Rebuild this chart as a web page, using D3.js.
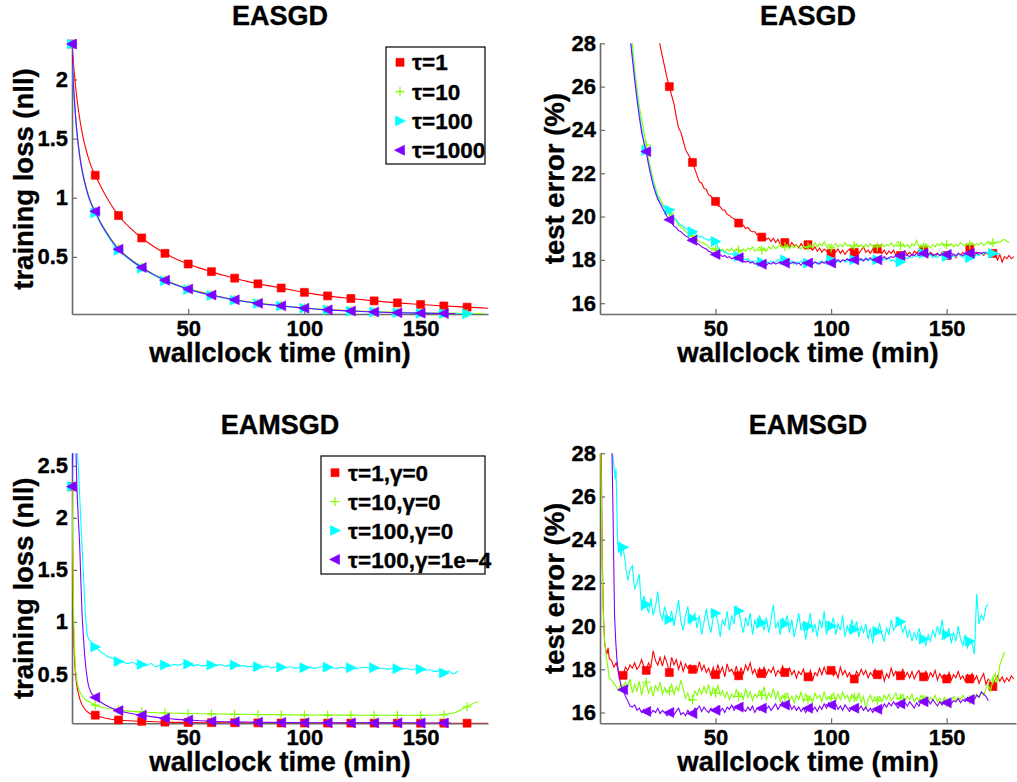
<!DOCTYPE html>
<html>
<head>
<meta charset="utf-8">
<script src="https://cdn.jsdelivr.net/npm/d3@7"></script>
<style>
body { margin: 0; background: #fff; }
text { font-family: "Liberation Sans", Arial, Helvetica, sans-serif; font-weight: bold; fill: #000; stroke: #000; stroke-width: 0.35px; }
</style>
</head>
<body>
<svg id="chart" width="1017" height="782"></svg>
<script>
// ---------- data ----------
var seriesColors = ['#ff0000', '#80ff00', '#00ffff', '#8000ff'];
var seriesMarkers = ['square', 'plus', 'right', 'left'];
var legendTop = ['τ=1', 'τ=10', 'τ=100', 'τ=1000'];
var legendBottom = ['τ=1,γ=0', 'τ=10,γ=0', 'τ=100,γ=0', 'τ=100,γ=1e−4'];

var xTicks = [50, 100, 150];
var lossTicksTop = [0.5, 1, 1.5, 2];
var lossTicksBottom = [0.5, 1, 1.5, 2, 2.5];
var errTicks = [16, 18, 20, 22, 24, 26, 28];

// EASGD, training loss  [minutes, nll]
var aRed = [[0,2.3],[1,2.05],[2,1.86],[3,1.71],[4,1.59],[5,1.49],[6,1.41],[7,1.34],[8,1.28],[9,1.23],[10,1.19],[12,1.11],[15,1.0],[20,0.85],[25,0.745],[30,0.66],[35,0.59],[40,0.53],[45,0.48],[50,0.44],[55,0.405],[60,0.375],[65,0.345],[70,0.32],[75,0.295],[80,0.272],[85,0.255],[90,0.237],[95,0.218],[100,0.2],[110,0.17],[120,0.148],[130,0.128],[140,0.111],[150,0.097],[160,0.085],[170,0.075],[179,0.066]];
var aGreen = [[0,2.3],[0.5,2.01],[1,1.85],[2,1.59],[3,1.41],[4,1.28],[5,1.18],[6,1.1],[7,1.03],[8,0.97],[9,0.925],[10,0.885],[12,0.805],[15,0.705],[20,0.57],[25,0.485],[30,0.415],[35,0.356],[40,0.307],[45,0.266],[50,0.232],[55,0.204],[60,0.18],[65,0.159],[70,0.14],[75,0.124],[80,0.11],[85,0.098],[90,0.088],[95,0.078],[100,0.069],[110,0.055],[120,0.045],[130,0.037],[140,0.031],[150,0.027],[160,0.024],[170,0.021],[177,0.02]];
var aCyan = [[0,2.3],[0.5,1.98],[1,1.82],[2,1.56],[3,1.39],[4,1.26],[5,1.16],[6,1.08],[7,1.01],[8,0.955],[9,0.91],[10,0.87],[12,0.79],[15,0.69],[20,0.555],[25,0.472],[30,0.403],[35,0.346],[40,0.298],[45,0.258],[50,0.224],[55,0.197],[60,0.174],[65,0.153],[70,0.134],[75,0.119],[80,0.105],[85,0.094],[90,0.084],[95,0.074],[100,0.065],[110,0.051],[120,0.041],[130,0.034],[140,0.028],[150,0.024],[160,0.021],[170,0.019],[173,0.019]];
var aPurple = [[0,2.3],[0.5,2.0],[1,1.84],[2,1.58],[3,1.4],[4,1.27],[5,1.17],[6,1.09],[7,1.02],[8,0.965],[9,0.92],[10,0.885],[12,0.8],[15,0.7],[20,0.565],[25,0.48],[30,0.41],[35,0.352],[40,0.303],[45,0.262],[50,0.228],[55,0.2],[60,0.177],[65,0.156],[70,0.137],[75,0.121],[80,0.107],[85,0.096],[90,0.086],[95,0.076],[100,0.066],[110,0.052],[120,0.042],[130,0.034],[140,0.028],[150,0.024],[160,0.021],[165,0.02]];

// EASGD, test error  head: [minutes, %], tail: one value per minute
var bRedHead = [[20,33],[24,29.5],[26,27.9],[27,27.4],[28,26.9],[29,26.4]];
var bRedStart = 30;
var bRedTail = [
  26.0,25.6,25.2,24.6,24.1,23.9,23.5,23.1,22.9,22.7,      // 30
  22.5,22.2,21.9,21.6,21.55,21.3,21.25,21.0,20.95,20.8,   // 40
  20.7,20.5,20.45,20.3,20.3,20.1,20.05,19.95,19.9,19.8,   // 50
  19.7,19.65,19.6,19.45,19.5,19.35,19.3,19.3,19.15,19.2,  // 60
  19.05,19.1,18.95,19.0,18.85,19.0,18.8,18.95,18.7,18.85, // 70
  18.8,18.75,18.6,18.8,18.65,18.7,18.55,18.75,18.6,18.5,  // 80
  18.7,18.55,18.45,18.6,18.4,18.55,18.35,18.5,18.4,18.3,  // 90
  18.3,18.45,18.35,18.5,18.3,18.45,18.25,18.4,18.5,18.3,  // 100
  18.35,18.5,18.3,18.45,18.6,18.35,18.45,18.3,18.5,18.4,  // 110
  18.5,18.35,18.3,18.45,18.25,18.4,18.3,18.45,18.2,18.35, // 120
  18.2,18.3,18.4,18.25,18.35,18.2,18.4,18.3,18.45,18.3,   // 130
  18.45,18.3,18.2,18.35,18.25,18.15,18.3,18.2,18.35,18.25,// 140
  18.2,18.3,18.15,18.25,18.1,18.3,18.2,18.35,18.25,18.4,  // 150
  18.55,18.3,18.2,18.35,18.25,18.3,18.2,18.35,18.25,18.3, // 160
  18.3,18.2,18.0,18.25,17.9,18.15,18.05,18.2,18.05,18.15  // 170
];
var bGreenHead = [[10,34],[12,30.5],[14,28.0],[15,26.8],[16,25.9],[17,25.1],[18,24.5],[19,23.9]];
var bGreenStart = 20;
var bGreenTail = [
  23.3,22.7,22.2,21.7,21.35,21.0,20.8,20.6,20.4,20.25,    // 20
  20.15,20.0,19.9,19.8,19.6,19.5,19.45,19.3,19.25,19.15,  // 30
  19.1,19.0,18.95,18.85,18.8,18.75,18.7,18.6,18.5,18.55,  // 40
  18.45,18.55,18.4,18.5,18.35,18.5,18.4,18.55,18.35,18.5, // 50
  18.45,18.35,18.5,18.4,18.55,18.45,18.6,18.4,18.5,18.6,  // 60
  18.45,18.55,18.4,18.6,18.5,18.65,18.5,18.6,18.75,18.55, // 70
  18.6,18.7,18.5,18.65,18.55,18.7,18.6,18.5,18.65,18.55,  // 80
  18.6,18.7,18.55,18.8,18.6,18.75,18.65,18.85,18.6,18.7,  // 90
  18.55,18.65,18.75,18.6,18.7,18.6,18.8,18.65,18.7,18.55, // 100
  18.65,18.75,18.6,18.7,18.55,18.7,18.6,18.75,18.6,18.7,  // 110
  18.6,18.65,18.75,18.6,18.7,18.65,18.8,18.6,18.7,18.85,  // 120
  18.65,18.75,18.6,18.7,18.55,18.75,18.65,18.9,18.6,18.7, // 130
  18.6,18.75,18.65,18.55,18.7,18.6,18.75,18.65,18.8,18.6, // 140
  18.7,18.65,18.75,18.6,18.7,18.65,18.8,18.7,18.65,18.75, // 150
  18.7,18.8,18.65,18.75,18.7,18.8,18.65,18.75,18.85,18.7, // 160
  18.8,18.75,18.85,18.8,18.9,18.95,18.85,18.8             // 170
];
var bCyanHead = [[8,34],[11,30],[13.5,28.0],[14.5,27.0],[15.5,26.0],[16.5,25.2],[17.5,24.4],[18.5,23.8],[19,23.5]];
var bCyanStart = 20;
var bCyanTail = [
  23.05,22.5,22.0,21.6,21.2,20.9,20.65,20.5,20.4,20.35,   // 20
  20.3,20.1,19.95,19.85,19.7,19.6,19.55,19.45,19.4,19.35, // 30
  19.3,19.2,19.15,19.05,19.1,19.0,18.95,18.9,18.95,18.85, // 40
  18.85,18.6,18.45,18.4,18.35,18.3,18.25,18.3,18.2,18.25, // 50
  18.15,18.1,18.05,18.0,18.05,17.95,17.9,17.95,17.85,17.9,// 60
  17.9,17.8,17.9,17.85,17.95,17.85,17.9,18.0,17.9,17.95,  // 70
  18.0,17.9,17.85,17.95,17.8,17.9,17.85,17.95,17.8,17.9,  // 80
  17.85,17.95,17.85,17.9,17.8,17.9,17.95,17.85,17.9,18.0, // 90
  18.0,17.9,17.85,17.95,17.9,18.0,17.9,17.95,18.05,17.9,  // 100
  18.0,17.95,18.05,17.95,18.0,18.1,17.95,18.05,17.95,18.05, // 110
  18.0,18.1,17.95,18.05,18.0,18.1,17.95,18.0,17.9,17.95,  // 120
  17.9,18.0,18.1,18.05,18.15,18.1,18.2,18.15,18.25,18.2,  // 130
  18.3,18.2,18.15,18.25,18.1,18.2,18.1,18.25,18.15,18.2,  // 140
  18.15,18.25,18.1,18.2,18.15,18.3,18.2,18.1,18.25,18.15, // 150
  18.1,18.2,18.15,18.25,18.2,18.3,18.25,18.35,18.3,18.25, // 160
  18.3,18.25,18.3,18.25                                   // 170
];
var bPurpleHead = [[8,34],[11,30],[13.3,28.0],[14,27.3],[15,26.3],[16,25.4],[17,24.6],[18,23.9],[19,23.4]];
var bPurpleStart = 20;
var bPurpleTail = [
  23.0,22.4,21.9,21.45,21.1,20.8,20.6,20.4,20.2,20.0,     // 20
  19.85,19.7,19.55,19.5,19.35,19.3,19.2,19.1,19.05,18.95, // 30
  18.9,18.8,18.75,18.7,18.6,18.55,18.5,18.4,18.35,18.3,   // 40
  18.25,18.2,18.25,18.15,18.2,18.1,18.15,18.05,18.1,18.0, // 50
  18.1,18.0,17.95,17.9,17.95,17.85,17.9,17.8,17.85,17.75, // 60
  17.8,17.85,17.75,17.85,17.8,17.9,17.8,17.85,17.9,17.8,  // 70
  17.85,17.9,17.8,17.85,17.9,17.8,17.85,17.75,17.9,17.8,  // 80
  17.85,17.9,17.8,17.9,17.85,17.8,17.9,17.85,17.95,17.85, // 90
  17.85,17.95,17.9,18.0,17.9,18.0,17.95,18.05,17.95,18.05,// 100
  18.0,18.1,18.0,18.05,17.95,18.05,18.0,18.1,18.0,18.05,  // 110
  18.0,18.1,18.05,18.15,18.05,18.1,18.15,18.1,18.2,18.15, // 120
  18.2,18.15,18.25,18.2,18.15,18.25,18.2,18.3,18.2,18.25, // 130
  18.3,18.2,18.25,18.3,18.2,18.25,18.3,18.2,18.25,18.3,   // 140
  18.25,18.2,18.3,18.25,18.2,18.3,18.25,18.2,18.3,18.25,  // 150
  18.3,18.25,18.35,18.3,18.35,18.3,18.35,18.3             // 160
];

// EAMSGD, training loss  [minutes, nll]
var cRed = [[0,2.3],[0.3,1.6],[0.6,1.0],[1,0.7],[1.5,0.5],[2,0.4],[3,0.29],[4,0.22],[5,0.18],[6,0.15],[7,0.13],[8,0.117],[10,0.104],[12,0.088],[15,0.072],[20,0.058],[25,0.05],[30,0.045],[40,0.037],[50,0.034],[60,0.032],[70,0.031],[80,0.03],[90,0.029],[100,0.029],[110,0.028],[120,0.028],[130,0.028],[140,0.028],[150,0.027],[160,0.027],[170,0.027],[179,0.027]];
var cGreen = [[0,2.3],[0.3,1.8],[0.6,1.2],[1,0.8],[1.5,0.56],[2,0.45],[3,0.35],[4,0.3],[5,0.27],[6,0.25],[8,0.225],[10,0.2],[12,0.185],[15,0.17],[20,0.155],[25,0.143],[30,0.135],[40,0.125],[50,0.12],[60,0.116],[70,0.113],[80,0.11],[90,0.108],[100,0.106],[110,0.105],[120,0.104],[130,0.103],[140,0.103],[150,0.103],[155,0.104],[160,0.11],[163,0.12],[166,0.14],[168,0.165],[170,0.185],[172,0.21],[175,0.235]];
var cCyanHead = [[0,2.3],[0.5,2.6],[1,2.72],[2,2.7],[2.8,2.45],[3.6,2.06],[4.3,1.74],[5,1.42],[5.7,1.1],[6.4,0.9],[7.1,0.84],[8,0.81],[9,0.79],[10,0.76],[11,0.74],[12,0.72],[13,0.7],[14,0.69],[15,0.67],[16,0.66],[17,0.655],[18,0.64],[19,0.63],[20,0.62]];
var cCyanStart = 22;   // one value every 2 minutes
var cCyanTail = [
  0.615,0.6,0.61,0.59,0.59,0.58,0.6,0.57,0.585,0.585,     // 22
  0.575,0.59,0.585,0.6,0.595,0.58,0.59,0.575,0.585,0.585, // 42
  0.58,0.59,0.575,0.585,0.585,0.575,0.58,0.57,0.575,0.57, // 62
  0.565,0.575,0.56,0.57,0.565,0.56,0.57,0.555,0.565,0.56, // 82
  0.57,0.555,0.565,0.57,0.565,0.56,0.555,0.565,0.555,0.56,// 102
  0.55,0.56,0.565,0.555,0.56,0.55,0.555,0.545,0.555,0.55, // 122
  0.545,0.555,0.54,0.55,0.545,0.535,0.54,0.525,0.53,0.51, // 142
  0.53,0.5,0.53                                           // 162
];
var cPurple = [[0,2.3],[0.4,2.7],[1.5,2.75],[2.1,2.3],[2.7,2.0],[3.3,1.74],[3.8,1.4],[4.3,1.1],[5,0.82],[5.7,0.62],[6.4,0.48],[7.1,0.39],[8,0.33],[9,0.295],[10,0.275],[12,0.235],[15,0.195],[20,0.148],[25,0.122],[30,0.104],[35,0.088],[40,0.074],[45,0.064],[50,0.057],[60,0.046],[70,0.04],[80,0.036],[90,0.034],[100,0.032],[110,0.031],[120,0.03],[130,0.03],[140,0.03],[150,0.029],[160,0.029],[163,0.029]];

// EAMSGD, test error  head: [minutes, %], tail: one value per minute
var dRedHead = [[0,40],[0.5,28.5],[1,23],[1.5,20.5],[2,19.2],[2.5,18.9],[3,18.7],[3.5,19.0],[4,18.5],[5,18.4],[6,18.1],[7,18.3],[8,17.9],[9,17.75]];
var dRedStart = 10;
var dRedTail = [
  17.72,18.1,17.95,18.2,18.05,18.3,18.0,18.15,18.45,18.1, // 10
  17.95,18.3,18.1,18.85,18.4,18.2,18.55,18.15,18.6,18.3,  // 20
  17.85,18.55,18.2,18.45,18.0,18.35,17.9,18.25,18.05,18.2,// 30
  18.0,18.15,17.9,18.35,17.95,18.2,17.85,18.05,17.7,18.1, // 40
  17.75,18.2,17.85,18.1,17.65,18.25,17.9,18.0,17.75,18.15,// 50
  17.7,18.05,17.8,18.2,17.95,18.3,17.8,18.0,17.65,18.05,  // 60
  17.8,18.1,17.75,18.0,17.85,18.1,17.7,17.95,17.8,18.15,  // 70
  17.85,17.7,18.05,17.75,17.95,17.6,17.9,17.75,18.0,17.6, // 80
  17.65,17.95,17.5,17.85,17.7,18.05,17.75,18.1,17.8,18.0, // 90
  17.95,17.7,17.9,17.6,18.1,17.75,17.95,17.65,17.85,17.55,// 100
  17.55,17.9,17.7,18.0,17.75,17.95,17.6,17.85,17.7,18.0,  // 110
  17.75,17.6,17.95,17.45,17.8,17.6,18.05,17.7,17.9,17.55, // 120
  17.7,18.0,17.65,17.85,17.6,17.9,17.55,17.8,17.95,17.6,  // 130
  17.65,17.9,17.55,17.85,17.65,17.95,17.5,17.8,17.6,17.75,// 140
  17.55,17.85,17.5,17.75,17.6,17.9,17.55,17.7,17.45,17.75,// 150
  17.55,17.8,17.5,17.7,17.35,17.6,17.8,17.3,17.55,17.4,   // 160
  17.2,17.5,17.7,17.45,17.65,17.4,17.6,17.45,17.7,17.55   // 170
];
var dGreenHead = [[0,40],[0.3,28.5],[0.7,25],[1,22.5],[1.5,20.3],[2,19.3],[2.5,18.8],[3,18.4],[3.5,18.0],[4,17.6],[5,17.5],[6,17.35],[7,17.2],[8,17.0],[9,17.3]];
var dGreenStart = 10;
var dGreenTail = [
  17.1,17.4,17.2,17.55,16.9,17.3,17.0,17.45,16.8,17.3,    // 10
  17.4,16.9,17.2,16.75,17.25,17.0,17.4,16.85,17.15,16.9,  // 20
  17.0,17.3,16.8,17.2,17.0,17.5,17.1,16.65,16.9,16.55,    // 30
  16.6,17.0,16.8,17.1,16.85,17.2,16.9,17.3,16.75,17.15,   // 40
  16.9,17.25,16.8,17.0,16.7,16.95,16.6,16.85,16.7,17.05,  // 50
  16.75,16.9,16.6,17.1,16.7,16.95,16.55,16.85,16.7,17.0,  // 60
  16.8,17.2,16.6,16.9,16.7,17.1,16.65,16.95,16.5,16.8,    // 70
  16.7,16.9,16.55,16.75,16.45,16.8,16.6,16.95,16.5,16.85, // 80
  16.6,16.75,16.45,16.9,16.65,16.8,16.5,16.95,16.6,16.75, // 90
  16.65,16.9,16.55,16.85,16.6,16.95,16.65,16.8,16.5,16.85,// 100
  16.7,16.55,16.9,16.45,16.75,16.15,16.6,16.8,16.5,16.7,  // 110
  16.55,16.75,16.5,16.8,16.6,16.85,16.55,16.7,16.9,16.6,  // 120
  16.65,16.85,16.55,16.75,16.6,16.85,16.5,16.7,16.55,16.8,// 130
  16.6,16.75,16.45,16.7,16.55,16.8,16.5,16.65,16.4,16.7,  // 140
  16.45,16.6,16.5,16.75,16.55,16.7,16.6,16.8,16.65,16.55, // 150
  16.6,16.75,16.65,16.85,16.7,16.95,16.8,17.1,17.3,17.0,  // 160
  17.5,17.8,17.4,18.2,18.5,18.8                           // 170
];
var dCyanHead = [[3,40],[5.5,28.0],[6.2,27.2],[6.6,26.8],[6.9,27.3],[7.3,25.5],[7.6,24.0],[8,23.4],[8.5,23.9],[9,23.2],[9.5,23.8]];
var dCyanStart = 10;
var dCyanTail = [
  23.65,22.9,22.1,22.6,22.8,21.7,22.0,22.4,20.7,21.4,     // 10
  21.0,20.6,21.3,20.5,20.9,21.6,20.6,20.3,20.9,20.5,      // 20
  20.3,20.7,20.0,20.6,21.2,20.2,19.8,20.5,20.9,20.1,      // 30
  20.35,20.6,19.9,20.5,19.6,20.2,20.8,20.1,19.7,20.4,     // 40
  20.6,20.2,19.5,20.3,20.0,20.7,19.8,20.5,20.1,20.9,      // 50
  20.7,20.2,19.7,20.4,20.0,20.6,19.6,20.3,19.9,20.5,      // 60
  20.15,19.8,20.4,19.7,20.3,21.0,19.9,20.2,19.6,20.4,     // 70
  20.1,20.5,19.7,20.3,19.5,20.0,20.6,19.8,20.2,19.4,      // 80
  20.0,20.6,19.7,20.1,19.5,20.3,19.9,20.7,19.6,20.2,      // 90
  20.0,20.4,19.6,20.1,19.8,20.5,19.5,20.0,19.7,20.3,      // 100
  19.85,20.2,19.5,20.0,19.7,20.1,19.4,19.9,19.2,19.8,     // 110
  19.75,20.1,19.6,19.3,19.9,19.6,20.3,19.8,20.0,20.4,     // 120
  20.2,19.7,20.0,19.5,19.8,19.3,19.7,19.4,19.9,19.5,      // 130
  19.4,19.1,19.6,19.3,19.8,19.5,20.0,19.6,20.3,19.4,      // 140
  19.6,19.9,19.2,19.7,19.3,20.0,19.4,19.1,19.6,19.0,      // 150
  19.3,19.2,18.7,21.5,20.1,20.5,20.3,20.9,21.0            // 160
];
var dPurpleHead = [[3,45],[4.6,30],[5.2,28.0],[5.6,25.5],[6.0,22.5],[6.3,20.5],[6.8,19.3],[7.3,18.5],[8,17.8],[8.6,17.5],[9.2,17.2]];
var dPurpleStart = 10;
var dPurpleTail = [
  17.05,16.75,16.55,16.3,16.25,16.35,16.1,16.2,16.0,16.15,// 10
  16.05,16.15,15.95,16.1,16.0,16.2,15.95,16.1,16.0,15.85, // 20
  16.0,16.15,15.9,16.05,16.2,15.9,16.0,15.85,16.1,15.95,  // 30
  15.95,16.2,16.15,16.3,16.05,16.25,16.1,16.0,16.2,16.05, // 40
  16.1,16.3,16.05,16.2,16.0,16.25,16.15,16.35,16.1,16.3,  // 50
  16.25,16.4,16.15,16.05,16.25,16.1,16.3,16.0,16.2,16.1,  // 60
  16.2,16.35,16.15,16.3,16.1,16.25,16.4,16.15,16.3,16.5,  // 70
  16.35,16.2,16.4,16.15,16.3,16.1,16.25,16.05,16.2,16.0,  // 80
  16.2,16.35,16.1,16.25,16.05,16.3,16.15,16.4,16.2,16.45, // 90
  16.35,16.2,16.4,16.15,16.3,16.1,16.35,16.2,16.05,16.25, // 100
  16.2,16.35,16.15,16.3,16.1,16.25,16.05,16.2,16.0,16.15, // 110
  16.15,16.3,16.15,16.4,16.25,16.45,16.3,16.5,16.35,16.2, // 120
  16.4,16.25,16.45,16.3,16.5,16.35,16.2,16.45,16.3,16.55, // 130
  16.5,16.35,16.55,16.4,16.6,16.45,16.3,16.5,16.35,16.55, // 140
  16.45,16.6,16.4,16.55,16.5,16.65,16.45,16.6,16.5,16.7,  // 150
  16.6,16.75,16.6,16.8,16.7,16.95,16.85,16.75,16.55       // 160
];

// ---------- drawing ----------
var svg = d3.select('#chart');

function joinSeries(head, start, tail, step) {
  var pts = head.slice();
  (tail || []).forEach(function(v, i) { pts.push([start + i * (step || 1), v]); });
  return pts;
}

function markerPath(type) {
  if (type === 'square') return 'M-4,-4H4V4H-4Z';
  if (type === 'plus') return 'M-4.5,0H4.5M0,-4.5V4.5';
  if (type === 'right') return 'M-4.5,-5L5.5,0L-4.5,5Z';
  return 'M4.5,-5L-5.5,0L4.5,5Z';
}

function styleMarker(sel, i) {
  sel.attr('d', markerPath(seriesMarkers[i]))
     .attr('fill', seriesMarkers[i] === 'plus' ? 'none' : seriesColors[i])
     .attr('stroke', seriesColors[i])
     .attr('stroke-width', seriesMarkers[i] === 'plus' ? 1.2 : 0.6);
}

function drawPanel(p) {
  var x = d3.scaleLinear().domain(p.xDomain).range(p.xRange);
  var y = d3.scaleLinear().domain(p.yDomain).range(p.yRange);
  var g = svg.append('g');

  svg.append('clipPath').attr('id', 'clip' + p.id)
    .append('rect')
      .attr('x', p.xRange[0]).attr('y', p.yRange[1])
      .attr('width', p.xRange[1] - p.xRange[0])
      .attr('height', p.yRange[0] - p.yRange[1]);

  // axes (MATLAB style: left + bottom, ticks inside)
  var xAxis = g.append('g')
      .attr('transform', 'translate(0,' + p.yRange[0] + ')')
      .call(d3.axisBottom(x).tickValues(xTicks).tickSizeInner(-5).tickSizeOuter(0).tickPadding(6));
  var yAxis = g.append('g')
      .attr('transform', 'translate(' + p.xRange[0] + ',0)')
      .call(d3.axisLeft(y).tickValues(p.yTicks).tickSizeInner(-5).tickSizeOuter(0).tickPadding(4)
              .tickFormat(function(d) { return d; }));
  [xAxis, yAxis].forEach(function(a) {
    a.attr('font-family', null).attr('font-size', null);
    a.select('.domain').attr('stroke', '#6a6a6a').attr('stroke-width', 1.6);
    a.selectAll('.tick line').attr('stroke', '#6a6a6a').attr('stroke-width', 1.2);
    a.selectAll('.tick text').attr('font-size', 22).attr('fill', '#000');
  });

  // lines + markers
  var line = d3.line()
      .x(function(d) { return x(d[0]); })
      .y(function(d) { return y(d[1]); })
      .curve(p.smooth ? d3.curveMonotoneX : d3.curveLinear);

  p.series.forEach(function(pts, i) {
    g.append('path')
      .attr('clip-path', 'url(#clip' + p.id + ')')
      .attr('d', line(pts))
      .attr('fill', 'none')
      .attr('stroke', seriesColors[i])
      .attr('stroke-width', 1.1);

    var marks = pts.filter(function(d) {
      return Math.abs(d[0] / 10 - Math.round(d[0] / 10)) < 1e-6 &&
             d[1] >= p.yDomain[0] && d[1] <= p.yDomain[1] &&
             d[0] >= p.xDomain[0] && d[0] <= p.xDomain[1];
    });
    g.selectAll(null)
      .data(marks)
      .enter()
      .append('path')
        .attr('transform', function(d) { return 'translate(' + x(d[0]) + ',' + y(d[1]) + ')'; })
        .call(styleMarker, i);
  });

  // titles and labels
  var cx = (p.xRange[0] + p.xRange[1]) / 2;
  var cy = (p.yRange[0] + p.yRange[1]) / 2;
  g.append('text')
    .attr('x', cx).attr('y', p.titleY)
    .attr('font-size', 27)
    .style('text-anchor', 'middle')
    .text(p.title);
  g.append('text')
    .attr('x', cx).attr('y', p.xLabelY)
    .attr('font-size', 27.5)
    .style('text-anchor', 'middle')
    .text('wallclock time (min)');
  g.append('text')
    .attr('transform', 'translate(' + p.yLabelX + ',' + cy + ') rotate(-90)')
    .attr('font-size', 27.5)
    .style('text-anchor', 'middle')
    .text(p.yLabel);
}

function drawLegend(box, labels) {
  var lg = svg.append('g');
  lg.append('rect')
    .attr('x', box.x).attr('y', box.y)
    .attr('width', box.w).attr('height', box.h)
    .attr('fill', '#fff').attr('stroke', '#000').attr('stroke-width', 1.2);
  labels.forEach(function(label, i) {
    var yy = box.firstY + i * box.step;
    lg.append('path')
      .attr('transform', 'translate(' + box.markerX + ',' + yy + ')')
      .call(styleMarker, i);
    lg.append('text')
      .attr('x', box.textX).attr('y', yy)
      .attr('dy', '0.36em')
      .attr('font-size', 22.5)
      .text(label);
  });
}

drawPanel({
  id: 'a', title: 'EASGD', yLabel: 'training loss (nll)', smooth: true,
  xDomain: [0, 179], xRange: [72, 488], yDomain: [0.017, 2.3], yRange: [314, 44],
  yTicks: lossTicksTop, titleY: 25, xLabelY: 362, yLabelX: 33,
  series: [aRed, aGreen, aCyan, aPurple]
});
drawPanel({
  id: 'b', title: 'EASGD', yLabel: 'test error (%)', smooth: false,
  xDomain: [0, 180], xRange: [600, 1016], yDomain: [15.5, 28], yRange: [314, 43.3],
  yTicks: errTicks, titleY: 25, xLabelY: 362, yLabelX: 564,
  series: [
    joinSeries(bRedHead, bRedStart, bRedTail),
    joinSeries(bGreenHead, bGreenStart, bGreenTail),
    joinSeries(bCyanHead, bCyanStart, bCyanTail),
    joinSeries(bPurpleHead, bPurpleStart, bPurpleTail)
  ]
});
drawPanel({
  id: 'c', title: 'EAMSGD', yLabel: 'training loss (nll)', smooth: true,
  xDomain: [0, 179], xRange: [72, 488], yDomain: [0.026, 2.62], yRange: [723.3, 453.3],
  yTicks: lossTicksBottom, titleY: 434, xLabelY: 771, yLabelX: 33,
  series: [cRed, cGreen, joinSeries(cCyanHead, cCyanStart, cCyanTail, 2), cPurple]
});
drawPanel({
  id: 'd', title: 'EAMSGD', yLabel: 'test error (%)', smooth: false,
  xDomain: [0, 180], xRange: [600, 1016], yDomain: [15.5, 28], yRange: [723.3, 453.3],
  yTicks: errTicks, titleY: 434, xLabelY: 771, yLabelX: 564,
  series: [
    joinSeries(dRedHead, dRedStart, dRedTail),
    joinSeries(dGreenHead, dGreenStart, dGreenTail),
    joinSeries(dCyanHead, dCyanStart, dCyanTail),
    joinSeries(dPurpleHead, dPurpleStart, dPurpleTail)
  ]
});

drawLegend({ x: 386, y: 47, w: 99, h: 117, firstY: 62.3, step: 29.3, markerX: 400, textX: 412 }, legendTop);
drawLegend({ x: 321, y: 456, w: 164, h: 118, firstY: 472.7, step: 28.9, markerX: 335, textX: 348 }, legendBottom);
</script>
</body>
</html>
